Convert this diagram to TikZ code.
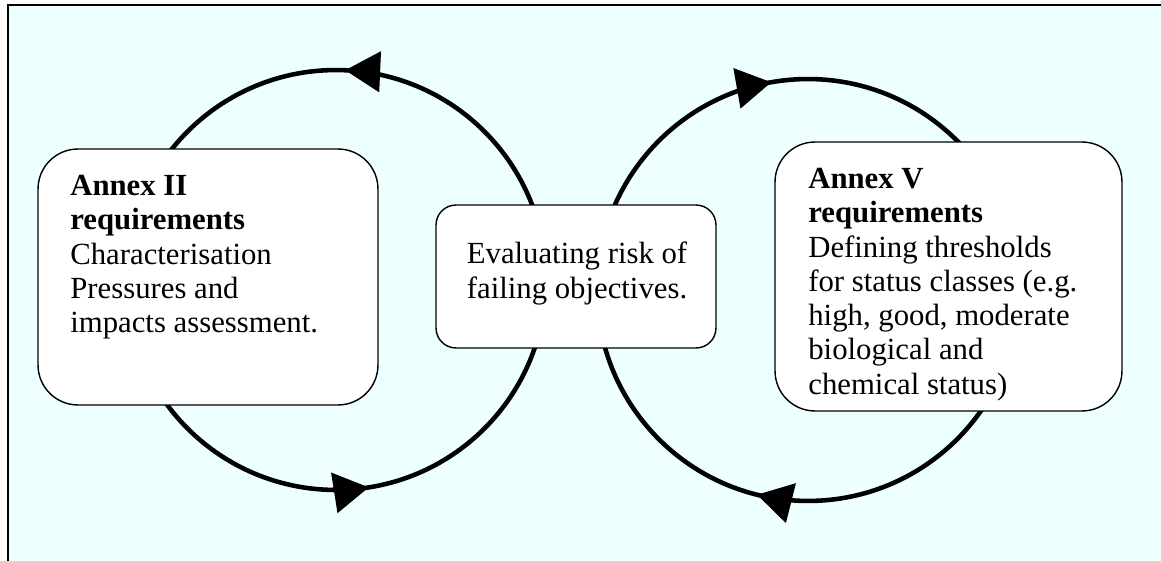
\documentclass[tikz,border=0pt]{standalone}
\usepackage{fontspec}
\setmainfont{Liberation Serif}
\usetikzlibrary{arrows.meta}

\definecolor{panelcyan}{HTML}{EEFFFF}

\tikzset{
    cyclebox/.style={draw, fill=white, line width=0.8pt, inner sep=0pt},
    boxtext/.style={inner sep=0pt, align=left, font=\fontsize{17.5}{19.5}\selectfont},
    cycleline/.style={line width=2.6pt},
    cyclearrow/.style={line width=2.6pt, -{Triangle[length=0.7cm, width=0.8cm]}}
}

\begin{document}
\begin{tikzpicture}[x=0.02cm, y=0.02cm]
    \useasboundingbox (0,0) rectangle (1161,561);
    \fill[panelcyan] (8,0) rectangle (1161,556);
    \draw[line width=0.9pt] (8,0) -- (8,556) -- (1161,556);

    \coordinate (lc) at (336,281);
    \coordinate (rc) at (808,271);

    \draw[cycleline] (lc) circle (4.2cm);
    \draw[cycleline] (rc) circle (4.22cm);

    \draw[cyclearrow] ([shift={(78:4.2cm)}]lc) arc[start angle=78, end angle=87.5, radius=4.2cm];
    \draw[cyclearrow] ([shift={(-91:4.2cm)}]lc) arc[start angle=-91, end angle=-81, radius=4.2cm];
    \draw[cyclearrow] ([shift={(109:4.22cm)}]rc) arc[start angle=109, end angle=100, radius=4.22cm];
    \draw[cyclearrow] ([shift={(265:4.22cm)}]rc) arc[start angle=265, end angle=256, radius=4.22cm];

    \node[cyclebox, rounded corners=0.8cm, minimum width=6.8cm, minimum height=5.12cm] (annexii) at (208,284) {};
    \node[cyclebox, rounded corners=0.4cm, minimum width=5.6cm, minimum height=2.86cm] (risk) at (576,284.5) {};
    \node[cyclebox, rounded corners=0.8cm, minimum width=6.94cm, minimum height=5.38cm] (annexv) at (948.5,284.5) {};

    \node[boxtext, anchor=north west] (annexiitext) at (70,386)
        {\textbf{Annex II}\\ \textbf{requirements}\\ Characterisation\\ Pressures and\\ impacts assessment.};
    \node[boxtext, align=center, anchor=north] (risktext) at (577,319)
        {Evaluating risk of\\ failing objectives.};
    \node[boxtext, anchor=north west] (annexvtext) at (808,393)
        {\textbf{Annex V}\\ \textbf{requirements}\\ Defining thresholds\\ for status classes (e.g.\\ high, good, moderate\\ biological and\\ chemical status)};
\end{tikzpicture}
\end{document}
